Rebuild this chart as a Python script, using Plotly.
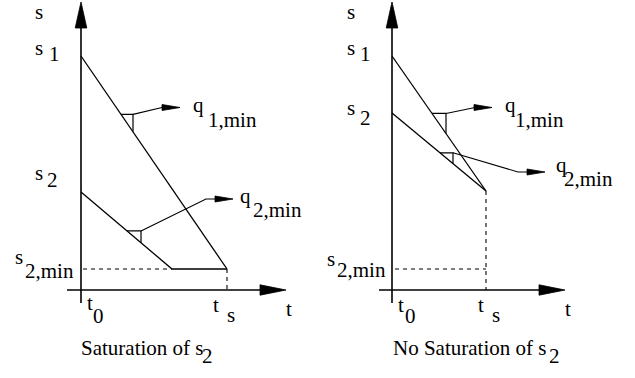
import plotly.graph_objects as go
import numpy as np

FONT = "Liberation Serif"
FS = 21

# ---------------- diagram data (t to the right, s upwards, origin at t0) -------------
S1 = 234            # initial value s1 (both panels)
S2_MIN = 21         # lower bound s2,min
LEFT_S2 = 98        # initial s2, saturating case
LEFT_T_SAT = 91     # time where s2 reaches s2,min
LEFT_TS = 146       # ts, saturating case
RIGHT_S2 = 177      # initial s2, non-saturating case
RIGHT_TS = 94       # ts, non-saturating case
RIGHT_S_END = 99    # common end value at ts, non-saturating case

left_s1_t = [0, LEFT_TS]
left_s1_s = [S1, S2_MIN]
left_s2_t = [0, LEFT_T_SAT, LEFT_TS]
left_s2_s = [LEFT_S2, S2_MIN, S2_MIN]
right_s1_t = [0, RIGHT_TS]
right_s1_s = [S1, RIGHT_S_END]
right_s2_t = [0, RIGHT_TS]
right_s2_s = [RIGHT_S2, RIGHT_S_END]

# slope-triangle spans (t range) on each line
left_q1_span = [40, 52]
left_q2_span = [46, 60]
right_q1_span = [40, 54]
right_q2_span = [48, 61]

# leader polylines (bend points) and arrow tips for q labels
left_q1_path = [(81, 182.5)]
left_q1_tip = (99, 182.5)
left_q2_path = [(125, 91), (136, 91)]
left_q2_tip = (152, 91)
right_q1_path = [(83, 182.5)]
right_q1_tip = (100, 182.5)
right_q2_path = [(126, 118), (138, 118)]
right_q2_tip = (153, 118)

# axes extents per panel
left_axis_t = (-14, 205)
right_axis_t = (-13, 173)
axis_s = (-13, 288)

# pixel frame used only for text placement
ORIGIN_X = {1: 81, 2: 392}
ORIGIN_Y = 290

fig = go.Figure()


def refs(p):
    return ("x", "y") if p == 1 else ("x2", "y2")


def line(p, t, s, width=1.3, dash=None):
    xr, yr = refs(p)
    fig.add_trace(go.Scatter(x=t, y=s, mode="lines", xaxis=xr, yaxis=yr,
                             line=dict(color="black", width=width, dash=dash),
                             hoverinfo="skip", showlegend=False))


def head(p, tip, direction, length, half):
    dx, dy = direction
    n = np.hypot(dx, dy)
    dx, dy = dx / n, dy / n
    bx, by = tip[0] - dx * length, tip[1] - dy * length
    px, py = -dy, dx
    xs = [tip[0], bx + px * half, bx - px * half, tip[0]]
    ys = [tip[1], by + py * half, by - py * half, tip[1]]
    xr, yr = refs(p)
    fig.add_trace(go.Scatter(x=xs, y=ys, mode="lines", fill="toself", fillcolor="black",
                             xaxis=xr, yaxis=yr, line=dict(color="black", width=0.8),
                             hoverinfo="skip", showlegend=False))


def interp(t_arr, s_arr, t):
    return float(np.interp(t, t_arr, s_arr))


def slope_triangle(p, t_arr, s_arr, span, path, tip):
    ta, tb = span
    sa = interp(t_arr, s_arr, ta)
    sb = interp(t_arr, s_arr, tb)
    line(p, [ta, tb, tb], [sa, sa, sb], width=1.2)
    pts = [(tb, sa)] + path + [tip]
    line(p, [q[0] for q in pts[:-1]], [q[1] for q in pts[:-1]], width=1.1)
    head(p, tip, (tip[0] - path[-1][0], tip[1] - path[-1][1]), 18, 3)


def axes(p, t_ext):
    line(p, [0, 0], [axis_s[0], axis_s[1] - 20], width=1.6)
    head(p, (0, axis_s[1]), (0, 1), 26, 5.8)
    line(p, [t_ext[0], t_ext[1] - 20], [0, 0], width=1.6)
    head(p, (t_ext[1], 0), (1, 0), 26, 5.2)


annotations = []


def label(p, text, ink_left_px, baseline_px):
    xr, yr = refs(p)
    x = ink_left_px - ORIGIN_X[p] - 1
    y = ORIGIN_Y - (baseline_px - 7)
    annotations.append(dict(x=x, y=y, xref=xr, yref=yr, text=text, showarrow=False,
                            xanchor="left", yanchor="middle", borderpad=0,
                            font=dict(family=FONT, size=FS, color="black")))


# ---------------- left panel ----------------
axes(1, left_axis_t)
line(1, left_s1_t, left_s1_s)
line(1, left_s2_t, left_s2_s)
line(1, [2, LEFT_T_SAT], [S2_MIN, S2_MIN], width=1.1, dash="4px,4px")
line(1, [LEFT_TS, LEFT_TS], [S2_MIN, 0], width=1.1, dash="4px,4px")
slope_triangle(1, left_s1_t, left_s1_s, left_q1_span, left_q1_path, left_q1_tip)
slope_triangle(1, left_s2_t, left_s2_s, left_q2_span, left_q2_path, left_q2_tip)

# ---------------- right panel ----------------
axes(2, right_axis_t)
line(2, right_s1_t, right_s1_s)
line(2, right_s2_t, right_s2_s)
line(2, [3, RIGHT_TS], [S2_MIN, S2_MIN], width=1.1, dash="4px,4px")
line(2, [RIGHT_TS, RIGHT_TS], [RIGHT_S_END, 0], width=1.1, dash="4px,4px")
slope_triangle(2, right_s1_t, right_s1_s, right_q1_span, right_q1_path, right_q1_tip)
slope_triangle(2, right_s2_t, right_s2_s, right_q2_span, right_q2_path, right_q2_tip)

# ---------------- labels ----------------
left_labels = [
    ("s", 35, 19),
    ("s", 35, 55), ("1", 49, 61),
    ("s", 35, 180), ("2", 47, 187),
    ("s", 15, 264), ("2,min", 25, 278),
    ("t", 87, 310), ("0", 93, 323),
    ("t", 213, 312), ("s", 227, 322),
    ("t", 286, 316),
    ("q", 193, 112), ("1,min", 208, 127),
    ("q", 240, 203), ("2,min", 253, 217),
    ("Saturation of s", 81, 355), ("2", 202, 363),
]
right_labels = [
    ("s", 347, 19),
    ("s", 347, 55), ("1", 360, 61),
    ("s", 347, 115), ("2", 360, 125),
    ("s", 327, 266), ("2,min", 337, 277),
    ("t", 398, 312), ("0", 405, 323),
    ("t", 478, 312), ("s", 492, 322),
    ("t", 565, 316),
    ("q", 505, 112), ("1,min", 515, 127),
    ("q", 556, 172), ("2,min", 564, 186),
    ("No Saturation of s", 393, 355), ("2", 549, 363),
]
for txt, xp, yp in left_labels:
    label(1, txt, xp, yp)
for txt, xp, yp in right_labels:
    label(2, txt, xp, yp)

W, H = 635, 378
split = 317.5
ax_common = dict(visible=False, showgrid=False, zeroline=False, fixedrange=True)
fig.update_layout(
    width=W, height=H, margin=dict(l=0, r=0, t=0, b=0),
    paper_bgcolor="white", plot_bgcolor="white", showlegend=False,
    font=dict(family=FONT, size=FS, color="black"),
    xaxis=dict(domain=[0, split / W], range=[-ORIGIN_X[1], split - ORIGIN_X[1]], **ax_common),
    yaxis=dict(domain=[0, 1], range=[ORIGIN_Y - H, ORIGIN_Y], anchor="x", **ax_common),
    xaxis2=dict(domain=[split / W, 1], range=[split - ORIGIN_X[2], W - ORIGIN_X[2]], **ax_common),
    yaxis2=dict(domain=[0, 1], range=[ORIGIN_Y - H, ORIGIN_Y], anchor="x2", **ax_common),
    annotations=annotations,
)
fig.write_html("out.html", config={"displayModeBar": False},
               post_script="document.body.style.margin='0';")
